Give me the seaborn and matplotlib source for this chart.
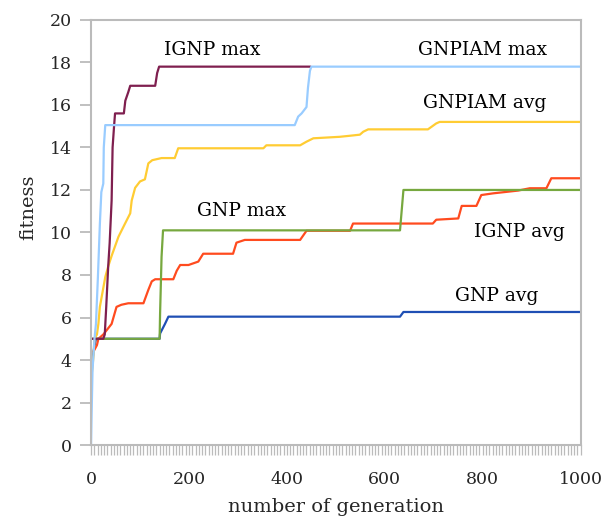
import matplotlib
matplotlib.use("Agg")
import matplotlib.pyplot as plt
from matplotlib.ticker import MultipleLocator
import seaborn as sns

# generation / fitness points
gen_gnp_avg = [0, 5, 10, 140, 141, 151, 158, 631, 638, 1000]
fit_gnp_avg = [3.5, 4.4, 5.0, 5.0, 5.25, 5.7, 6.04, 6.04, 6.26, 6.26]

gen_ignp_avg = [5, 12, 15, 25, 42, 52, 62, 76, 107, 117, 124, 131, 168, 175, 182,
                199, 219, 229, 290, 297, 314, 427, 440, 529, 535, 698, 705, 750,
                757, 787, 797, 821, 872, 896, 930, 940, 1000]
fit_ignp_avg = [4.4, 4.7, 5.0, 5.2, 5.7, 6.5, 6.6, 6.67, 6.67, 7.3, 7.7, 7.8, 7.8,
                8.2, 8.47, 8.47, 8.63, 9.0, 9.0, 9.52, 9.65, 9.65, 10.08, 10.08,
                10.42, 10.42, 10.6, 10.66, 11.25, 11.25, 11.76, 11.84, 11.97,
                12.08, 12.08, 12.55, 12.55]

gen_gnp_max = [0, 140, 141, 144, 147, 631, 638, 1000]
fit_gnp_max = [5.0, 5.0, 6.2, 8.86, 10.1, 10.1, 12.0, 12.0]

gen_gnpiam_avg = [0, 5, 7, 12, 15, 18, 29, 35, 42, 56, 69, 80, 83, 90, 100, 110,
                  117, 125, 144, 171, 178, 352, 358, 427, 440, 454, 508, 529,
                  549, 556, 566, 688, 705, 712, 1000]
fit_gnpiam_avg = [3.0, 4.2, 5.0, 5.2, 5.7, 6.5, 7.9, 8.4, 8.9, 9.8, 10.4, 10.9,
                  11.5, 12.1, 12.4, 12.5, 13.25, 13.4, 13.5, 13.5, 13.96, 13.96,
                  14.1, 14.1, 14.27, 14.43, 14.5, 14.55, 14.6, 14.74, 14.85,
                  14.85, 15.13, 15.2, 15.2]

gen_ignp_max = [0, 25, 28, 31, 35, 38, 42, 44, 47, 49, 67, 70, 76, 80, 131, 135, 139, 448]
fit_ignp_max = [5.0, 5.0, 5.2, 6.5, 8.4, 9.5, 11.5, 14.0, 15.0, 15.6, 15.6, 16.2,
                16.6, 16.9, 16.9, 17.5, 17.8, 17.8]

gen_gnpiam_max = [0, 1, 3, 7, 10, 14, 18, 21, 25, 26, 29, 416, 423, 430, 440, 443,
                  447, 450, 1000]
fit_gnpiam_max = [0, 1.3, 3.5, 5.0, 5.7, 7.9, 10.4, 11.9, 12.3, 14.0, 15.05, 15.05,
                  15.45, 15.6, 15.9, 16.8, 17.6, 17.8, 17.8]

series = [
    (gen_gnp_avg, fit_gnp_avg, "#1f4fb4"),
    (gen_ignp_avg, fit_ignp_avg, "#ff4b1f"),
    (gen_gnp_max, fit_gnp_max, "#77a83f"),
    (gen_gnpiam_avg, fit_gnpiam_avg, "#ffcc33"),
    (gen_ignp_max, fit_ignp_max, "#7f1f4f"),
    (gen_gnpiam_max, fit_gnpiam_max, "#99ccff"),
]

labels = ["IGNP max", "GNPIAM max", "GNPIAM avg", "GNP max", "IGNP avg", "GNP avg"]
label_x = [247, 800, 804, 308, 875, 829]
label_y = [18.6, 18.6, 16.1, 11.0, 10.0, 7.0]

sns.set_style("white")
plt.rcParams['font.family'] = ['DejaVu Serif']

fig = plt.figure(figsize=(6.03, 5.23), dpi=100)
ax = fig.add_axes([0.151, 0.149, 0.812, 0.813])

for x, y, c in series:
    sns.lineplot(x=x, y=y, color=c, linewidth=1.6, estimator=None, sort=False, ax=ax)

for t, x, y in zip(labels, label_x, label_y):
    ax.text(x, y, t, ha="center", va="center", fontsize=13.5, color="black")

ax.set_xlim(0, 1000)
ax.set_ylim(0, 20)
ax.set_xticks(range(0, 1001, 200))
ax.set_yticks(range(0, 21, 2))
ax.xaxis.set_minor_locator(MultipleLocator(1000 / 150))

gray = "#bbbbbb"
for s in ax.spines.values():
    s.set_color(gray)
    s.set_linewidth(1.5)
ax.tick_params(axis="y", which="major", direction="out", length=8, width=1.3,
               color=gray, labelsize=12.5, pad=6, left=True)
ax.tick_params(axis="x", which="both", direction="out", length=7, width=0.9,
               color=gray, labelsize=12.5, pad=12, bottom=True)

ax.set_xlabel("number of generation", fontsize=14)
ax.set_ylabel("fitness", fontsize=14)
ax.yaxis.set_label_coords(-0.11, 0.56)
ax.xaxis.set_label_coords(0.5, -0.125)

fig.savefig("out.png", dpi=100)
